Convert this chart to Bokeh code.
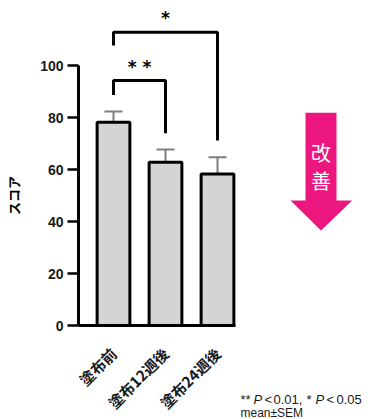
import math
from bokeh.plotting import figure
from bokeh.models import FixedTicker, Range1d, Whisker, TeeHead, ColumnDataSource, Label
from bokeh.core.properties import value
from bokeh.embed import file_html
from bokeh.resources import INLINE

# ---- data -------------------------------------------------------------
categories = ["塗布前", "塗布12週後", "塗布24週後"]
scores = [78.2, 62.8, 58.3]
sems = [4.1, 4.9, 6.4]
y_ticks = [0, 20, 40, 60, 80, 100]

# significance brackets: (left group, right group, label, top, left leg end, right leg end)
comparisons = [
    (0, 1, "* *", 94.2, 88.7, 73.9),
    (0, 2, "*", 112.8, 107.7, 71.2),
]

# ---- layout constants (pixels) ----------------------------------------
W, H = 376, 419
AXIS_X_PX, AXIS_Y_PX = 78, 325   # where the y and x axis lines sit
FIRST_BAR_PX, X_STEP = 113, 52   # centre of first bar, px per category
Y_SCALE = 2.6                    # px per score unit

def px_x(px):
    return (px - FIRST_BAR_PX) / X_STEP

def px_y(py):
    return (AXIS_Y_PX - py) / Y_SCALE

# the frame covers the whole canvas; axes are pinned inside it
p = figure(width=W, height=H, output_backend="svg", toolbar_location=None,
           x_range=Range1d(px_x(0), px_x(W)), y_range=Range1d(px_y(H), px_y(0)),
           min_border=0)
p.outline_line_color = None
p.grid.visible = False
p.background_fill_color = "white"
p.border_fill_color = "white"

xs = list(range(len(categories)))
src = ColumnDataSource(dict(x=xs, top=scores,
                            upper=[s + e for s, e in zip(scores, sems)]))

# bars
p.vbar(x="x", top="top", width=0.63, bottom=0, source=src,
       fill_color="#D4D4D4", line_color="black", line_width=3)

# SEM error bars (upward only)
p.add_layout(Whisker(base="x", lower="top", upper="upper", source=src,
                     line_color="#7F7F7F", line_width=2,
                     upper_head=TeeHead(size=18, line_color="#7F7F7F", line_width=2),
                     lower_head=None, level="underlay"))

# significance brackets and stars
bx, by, sx, sy, st = [], [], [], [], []
for a, b, lab, top, la, lb in comparisons:
    bx.append([a, a, b, b])
    by.append([la, top, top, lb])
    sx.append((a + b) / 2)
    sy.append(top + 5.4)
    st.append(lab)
p.multi_line(bx, by, line_color="black", line_width=3)
p.text(sx, sy, text=st, text_align="center", text_baseline="middle",
       text_font=value("DejaVu Sans"), text_font_style="bold",
       text_font_size="17px", text_color="black")

# axes
p.yaxis.fixed_location = px_x(AXIS_X_PX)
p.yaxis.ticker = FixedTicker(ticks=y_ticks)
p.yaxis.bounds = (0, 100)
p.yaxis.axis_line_width = 3
p.yaxis.major_tick_line_width = 2.5
p.yaxis.major_tick_out = 11
p.yaxis.major_tick_in = 0
p.yaxis.minor_tick_line_color = None
p.yaxis.major_label_standoff = 4
p.yaxis.major_label_text_font = "Liberation Sans"
p.yaxis.major_label_text_font_style = "bold"
p.yaxis.major_label_text_font_size = "14px"
p.yaxis.major_label_text_color = "#1a1a1a"
p.yaxis.axis_label = "スコア"
p.yaxis.axis_label_text_font = "Noto Sans CJK JP"
p.yaxis.axis_label_text_font_style = "bold"
p.yaxis.axis_label_text_font_size = "13px"
p.yaxis.axis_label_text_color = "black"
p.yaxis.axis_label_standoff = 14

# x axis: baseline only, category names are drawn slanted below
p.xaxis.fixed_location = 0
p.xaxis.ticker = FixedTicker(ticks=[])
p.xaxis.bounds = (px_x(AXIS_X_PX), px_x(235))
p.xaxis.axis_line_width = 3
p.xaxis.major_tick_out = 0
p.xaxis.major_tick_in = 0
p.xaxis.minor_tick_line_color = None

# slanted category labels, right end just under each bar
p.text(xs, [px_y(350)] * len(xs), text=categories, angle=math.pi / 4,
       text_align="right", text_baseline="middle",
       text_font=value("Noto Sans CJK JP"), text_font_size="15px",
       text_font_style="bold", text_color="#1a1a1a")

# "改善" arrow
arrow_x = [px_x(v) for v in (305, 336, 336, 351.7, 320.5, 290, 305)]
arrow_y = [px_y(v) for v in (112.3, 112.3, 200, 200, 230, 200, 200)]
p.patch(arrow_x, arrow_y, fill_color="#EC167F", line_color=None)
p.text([px_x(320.5)] * 2, [px_y(152), px_y(180)], text=["改", "善"],
       text_align="center", text_baseline="middle",
       text_font=value("Noto Sans CJK JP"), text_font_size="20px",
       text_color="white")

# footnote
foot = [
    ("**", 240, 399, "normal", "13px"),
    ("P", 253, 399, "italic", "13px"),
    ("<", 264, 399, "normal", "13px"),
    ("0.01,", 273, 399, "normal", "13px"),
    ("*", 306, 399, "normal", "13px"),
    ("P", 315, 399, "italic", "13px"),
    ("<", 326, 399, "normal", "13px"),
    ("0.05", 336, 399, "normal", "13px"),
    ("mean±SEM", 240, 412, "normal", "12px"),
]
for txt, fx, fy, style, size in foot:
    p.add_layout(Label(x=px_x(fx), y=px_y(fy), text=txt, text_font="Liberation Sans",
                       text_font_size=size, text_font_style=style,
                       text_color="#1a1a1a", text_baseline="alphabetic"))

open("out.html", "w").write(file_html(p, INLINE))
